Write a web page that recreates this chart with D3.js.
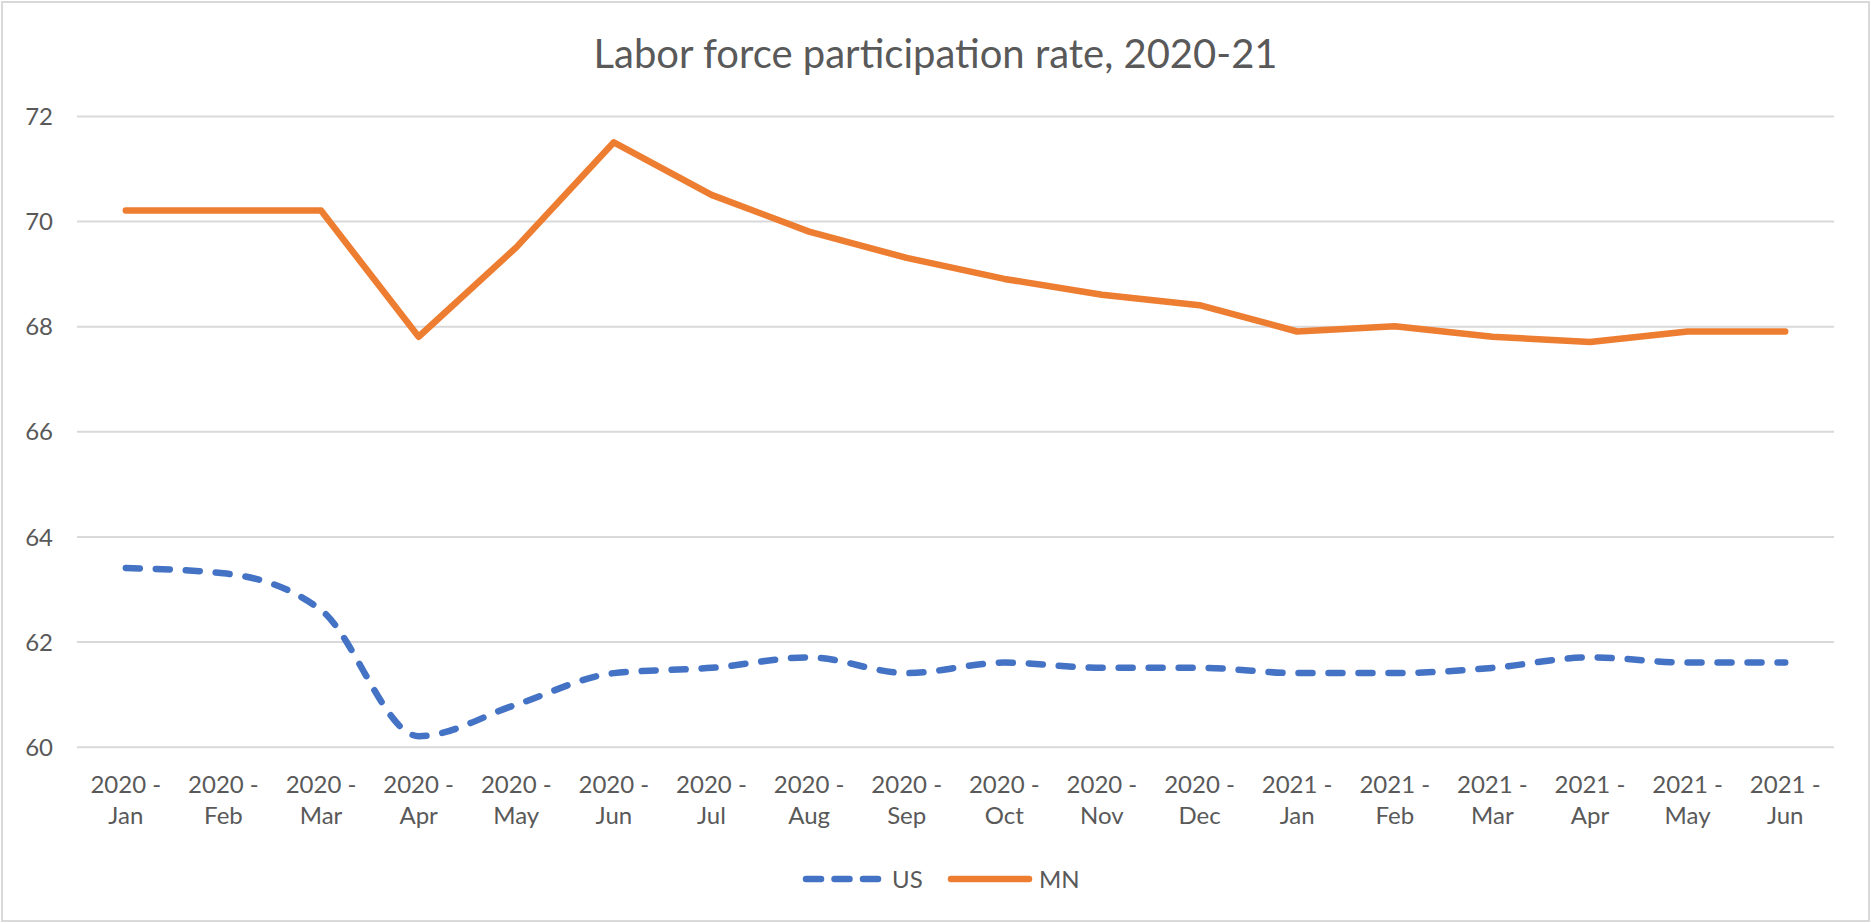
<!DOCTYPE html>
<html>
<head>
<meta charset="utf-8">
<script src="https://cdn.jsdelivr.net/npm/d3@7"></script>
<style>
  html, body { margin: 0; padding: 0; background: #fff; }
  svg { display: block; }
  text { font-family: Lato, "Open Sans", sans-serif; fill: #595959; }
</style>
</head>
<body>
<svg id="chart" width="1871" height="923"></svg>
<script>
// Monthly labor force participation rate (%), Jan 2020 – Jun 2021
const years = ["2020", "2020", "2020", "2020", "2020", "2020", "2020", "2020", "2020", "2020", "2020", "2020",
               "2021", "2021", "2021", "2021", "2021", "2021"];
const months = ["Jan", "Feb", "Mar", "Apr", "May", "Jun", "Jul", "Aug", "Sep", "Oct", "Nov", "Dec",
                "Jan", "Feb", "Mar", "Apr", "May", "Jun"];
const usValues = [63.4, 63.3, 62.6, 60.2, 60.8, 61.4, 61.5, 61.7, 61.4, 61.6, 61.5, 61.5,
                  61.4, 61.4, 61.5, 61.7, 61.6, 61.6];
const mnValues = [70.2, 70.2, 70.2, 67.8, 69.5, 71.5, 70.5, 69.8, 69.3, 68.9, 68.6, 68.4,
                  67.9, 68.0, 67.8, 67.7, 67.9, 67.9];
const yTicks = [60, 62, 64, 66, 68, 70, 72];
const seriesNames = ["US", "MN"];
const titleText = "Labor force participation rate, 2020-21";

const W = 1871, H = 923;
const plot = { left: 77, right: 1834, top: 116, bottom: 746.7 };
const colors = { US: "#4472C4", MN: "#ED7D31" };

const categories = months.map((m, i) => years[i] + "|" + m + "|" + i);

const svg = d3.select("#chart");

// Chart frame
svg.append("rect")
  .attr("x", 2).attr("y", 2)
  .attr("width", W - 4).attr("height", H - 4)
  .attr("fill", "#fff")
  .attr("stroke", "#d9d9d9").attr("stroke-width", 2);

const x = d3.scaleBand().domain(categories).range([plot.left, plot.right]).padding(0);
const y = d3.scaleLinear().domain([60, 72]).range([plot.bottom, plot.top]);
const cx = c => x(c) + x.bandwidth() / 2;

// Title
svg.append("text")
  .attr("x", W / 2).attr("y", 68)
  .attr("text-anchor", "middle")
  .style("font-size", "40px")
  .text(titleText);

// Horizontal gridlines + y labels
const yAxis = d3.axisLeft(y).tickValues(yTicks).tickSize(-(plot.right - plot.left)).tickPadding(24)
  .tickFormat(d3.format("d"));
const yg = svg.append("g").attr("transform", `translate(${plot.left},0)`).call(yAxis);
yg.select(".domain").remove();
yg.selectAll(".tick line").attr("stroke", "#d9d9d9").attr("stroke-width", 2);
yg.selectAll(".tick text")
  .style("font-size", "24px").style("font-family", "Lato, sans-serif")
  .attr("fill", "#595959").attr("dy", "0.36em");

// Category labels on two lines
const xAxis = d3.axisBottom(x).tickSize(0).tickFormat(() => "");
const xg = svg.append("g").attr("transform", `translate(0,${plot.bottom})`).call(xAxis);
xg.select(".domain").remove();
xg.selectAll(".tick text").remove();
xg.selectAll(".tick").each(function(c, i) {
  const t = d3.select(this).append("text")
    .attr("text-anchor", "middle")
    .attr("fill", "#595959")
    .style("font-size", "24px");
  t.append("tspan").attr("x", 0).attr("y", 46).text(years[i] + " -");
  t.append("tspan").attr("x", 0).attr("y", 77).text(months[i]);
});

// Series lines
const usLine = d3.line()
  .x((d, i) => cx(categories[i]))
  .y(d => y(d))
  .curve(d3.curveMonotoneX);
const mnLine = d3.line()
  .x((d, i) => cx(categories[i]))
  .y(d => y(d))
  .curve(d3.curveLinear);

svg.append("path")
  .datum(usValues)
  .attr("d", usLine)
  .attr("fill", "none")
  .attr("stroke", colors.US)
  .attr("stroke-width", 6.5)
  .attr("stroke-linecap", "round")
  .attr("stroke-dasharray", "14 16");

svg.append("path")
  .datum(mnValues)
  .attr("d", mnLine)
  .attr("fill", "none")
  .attr("stroke", colors.MN)
  .attr("stroke-width", 6.5)
  .attr("stroke-linecap", "round")
  .attr("stroke-linejoin", "round");

// Legend
const legendY = 879;
const legend = svg.append("g");
const usItem = legend.append("g");
usItem.append("line")
  .attr("x1", 806).attr("x2", 880).attr("y1", legendY).attr("y2", legendY)
  .attr("stroke", colors.US).attr("stroke-width", 6.5)
  .attr("stroke-linecap", "round").attr("stroke-dasharray", "15 13.5");
usItem.append("text")
  .attr("x", 892).attr("y", legendY).attr("dy", "0.36em")
  .style("font-size", "24px").text(seriesNames[0]);

const mnItem = legend.append("g");
mnItem.append("line")
  .attr("x1", 951).attr("x2", 1029).attr("y1", legendY).attr("y2", legendY)
  .attr("stroke", colors.MN).attr("stroke-width", 6.5)
  .attr("stroke-linecap", "round");
mnItem.append("text")
  .attr("x", 1039).attr("y", legendY).attr("dy", "0.36em")
  .style("font-size", "24px").text(seriesNames[1]);
</script>
</body>
</html>
